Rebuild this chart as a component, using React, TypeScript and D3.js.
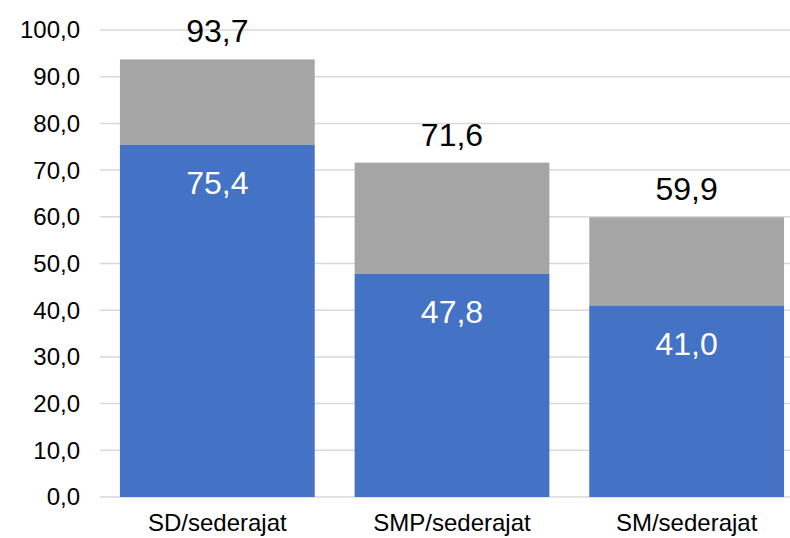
import React, { useEffect, useRef } from 'react';
import * as d3 from 'd3';

const categories = ['SD/sederajat', 'SMP/sederajat', 'SM/sederajat'];
const blueValues = [75.4, 47.8, 41.0];
const totalValues = [93.7, 71.6, 59.9];
const yTicks = [0, 10, 20, 30, 40, 50, 60, 70, 80, 90, 100];

const WIDTH = 790;
const HEIGHT = 538;
const FONT = 'Liberation Sans, Arial, sans-serif';

const fmt = (v: number) => v.toFixed(1).replace('.', ',');

const App = () => {
  const svgRef = useRef<SVGSVGElement>(null);

  useEffect(() => {
    const margin = { top: 30, right: -14, bottom: 41, left: 100 };
    const width = WIDTH - margin.left - margin.right;
    const height = HEIGHT - margin.top - margin.bottom;

    const svg = d3.select(svgRef.current);
    svg.selectAll('*').remove();

    const g = svg.append('g')
      .attr('transform', `translate(${margin.left},${margin.top})`);

    const x = d3.scaleBand()
      .domain(categories)
      .range([0, width])
      .paddingInner(0.17)
      .paddingOuter(0.085);

    const y = d3.scaleLinear().domain([0, 100]).range([height, 0]);

    // gridlines
    g.selectAll('.grid')
      .data(yTicks)
      .enter()
      .append('line')
      .attr('x1', 0)
      .attr('x2', WIDTH - margin.left)
      .attr('y1', (d) => y(d))
      .attr('y2', (d) => y(d))
      .attr('stroke', '#d9d9d9')
      .attr('stroke-width', 1.5);

    // y tick labels
    g.selectAll('.ytick')
      .data(yTicks)
      .enter()
      .append('text')
      .attr('x', -20)
      .attr('y', (d) => y(d))
      .attr('dy', '0.35em')
      .attr('text-anchor', 'end')
      .attr('font-family', FONT)
      .attr('font-size', 24)
      .attr('fill', '#000')
      .text((d) => fmt(d));

    const rows = categories.map((c, i) => ({ name: c, blue: blueValues[i], total: totalValues[i] }));

    // gray top segment
    g.selectAll('.bar-gray')
      .data(rows)
      .enter()
      .append('rect')
      .attr('x', (d) => x(d.name) as number)
      .attr('y', (d) => y(d.total))
      .attr('width', x.bandwidth())
      .attr('height', (d) => y(d.blue) - y(d.total))
      .attr('fill', '#a5a5a5');

    // blue bottom segment
    g.selectAll('.bar-blue')
      .data(rows)
      .enter()
      .append('rect')
      .attr('x', (d) => x(d.name) as number)
      .attr('y', (d) => y(d.blue))
      .attr('width', x.bandwidth())
      .attr('height', (d) => y(0) - y(d.blue))
      .attr('fill', '#4472c4');

    // blue value labels
    g.selectAll('.lbl-blue')
      .data(rows)
      .enter()
      .append('text')
      .attr('x', (d) => (x(d.name) as number) + x.bandwidth() / 2)
      .attr('y', (d) => y(d.blue) + 49)
      .attr('text-anchor', 'middle')
      .attr('font-family', FONT)
      .attr('font-size', 32)
      .attr('fill', '#fff')
      .text((d) => fmt(d.blue));

    // total labels
    g.selectAll('.lbl-total')
      .data(rows)
      .enter()
      .append('text')
      .attr('x', (d) => (x(d.name) as number) + x.bandwidth() / 2)
      .attr('y', (d) => y(d.total) - 17)
      .attr('text-anchor', 'middle')
      .attr('font-family', FONT)
      .attr('font-size', 32)
      .attr('fill', '#000')
      .text((d) => fmt(d.total));

    // category labels (nudged up a little so descenders stay inside)
    g.selectAll('.xlbl')
      .data(categories)
      .enter()
      .append('text')
      .attr('x', (d) => (x(d) as number) + x.bandwidth() / 2)
      .attr('y', height + 34)
      .attr('text-anchor', 'middle')
      .attr('font-family', FONT)
      .attr('font-size', 24)
      .attr('fill', '#000')
      .text((d) => d);
  }, []);

  return (
    <div style={{ position: 'absolute', left: 0, top: 0, width: WIDTH, height: HEIGHT, background: '#fff' }}>
      <svg ref={svgRef} width={WIDTH} height={HEIGHT} style={{ display: 'block' }} />
    </div>
  );
};

export default App;
